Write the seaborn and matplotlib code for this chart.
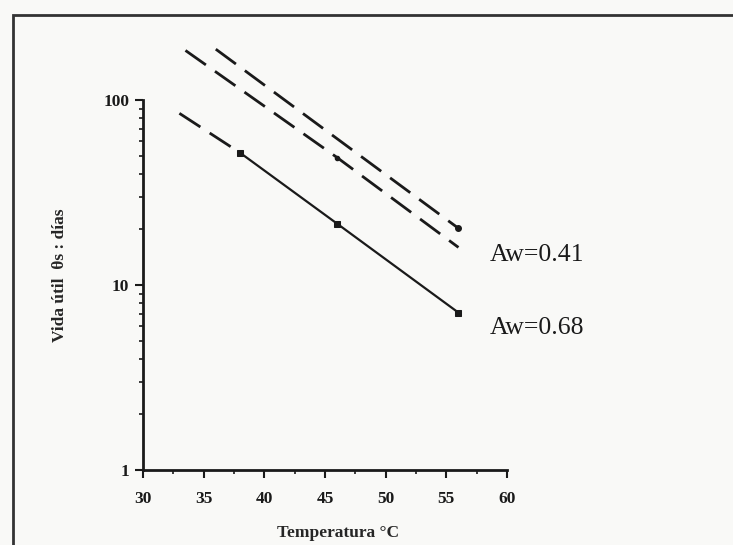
import matplotlib
matplotlib.use("Agg")
import matplotlib.pyplot as plt
import matplotlib.ticker as mticker
from matplotlib.patches import Rectangle
import numpy as np
import pandas as pd
import seaborn as sns

# valores (vida util en dias vs temperatura)
temp_068 = [38, 46, 56]
vida_068 = [52, 21.5, 7.1]
temp_068_ext = [33, 38]
vida_068_ext = [85, 52]
temp_041a = [33.5, 46, 56]
vida_041a = [186, 49, 16]
temp_041b = [36, 56]
vida_041b = [189, 20.3]
x_ticks = [30, 35, 40, 45, 50, 55, 60]
y_ticks = [1, 10, 100]
etiquetas = ["Aw=0.41", "Aw=0.68"]
etiq_x = [58.6, 58.6]
etiq_y = [14.5, 5.9]

sns.set_style("ticks")
plt.rcParams["font.family"] = ["Liberation Serif", "DejaVu Serif"]

fig = plt.figure(figsize=(7.33, 5.45), dpi=100)
fig.patch.set_facecolor("#f9f9f7")
ax = fig.add_axes([143 / 733, 1 - 470 / 545, 364 / 733, 440 / 545])
ax.set_facecolor("none")

# marco de la figura
fig.patches.append(Rectangle((13 / 733, -0.1), 1.2, 1.1 - 15 / 545,
                             transform=fig.transFigure, fill=False,
                             edgecolor="#333333", linewidth=2))

dash = (0, (9, 4))
sns.lineplot(x=temp_041b, y=vida_041b, ax=ax, color="#1a1a1a", lw=2, linestyle=dash)
sns.lineplot(x=temp_041a, y=vida_041a, ax=ax, color="#1a1a1a", lw=2, linestyle=dash)
sns.lineplot(x=temp_068_ext, y=vida_068_ext, ax=ax, color="#1a1a1a", lw=2, linestyle=dash)
sns.lineplot(x=temp_068, y=vida_068, ax=ax, color="#1a1a1a", lw=1.6,
             marker="s", markersize=5, markeredgecolor="#1a1a1a")
ax.plot(temp_041b[-1:], vida_041b[-1:], "o", color="#1a1a1a", ms=4)
ax.plot(temp_041a[1:2], vida_041a[1:2], "o", color="#1a1a1a", ms=3)

ax.set_yscale("log")
ax.set_xlim(30, 60)
ax.set_ylim(1, 240)
ax.spines["top"].set_visible(False)
ax.spines["right"].set_visible(False)
ax.spines["left"].set_bounds(1, 100)
ax.spines["bottom"].set_bounds(30, 60)
for s in ("left", "bottom"):
    ax.spines[s].set_linewidth(2)
    ax.spines[s].set_color("#1a1a1a")

minor_y = [m * d for d in (1, 10) for m in range(2, 10)]
ax.xaxis.set_major_locator(mticker.FixedLocator(x_ticks))
ax.xaxis.set_minor_locator(mticker.MultipleLocator(2.5))
ax.yaxis.set_major_locator(mticker.FixedLocator(y_ticks))
ax.yaxis.set_major_formatter(mticker.FixedFormatter([str(v) for v in y_ticks]))
ax.yaxis.set_minor_locator(mticker.FixedLocator(minor_y))
ax.yaxis.set_minor_formatter(mticker.NullFormatter())
ax.tick_params(which="major", direction="out", length=6, width=1.5, colors="#1a1a1a",
               labelsize=12.5)
ax.tick_params(which="minor", direction="out", length=3, width=1.2, colors="#1a1a1a")
ax.tick_params(axis="x", pad=9)
ax.tick_params(axis="y", pad=4)
for lab in ax.get_xticklabels() + ax.get_yticklabels():
    lab.set_fontweight("bold")

ax.set_xlabel("Temperatura °C", fontsize=12.5, fontweight="bold")
ax.xaxis.set_label_coords(0.536, -0.125)
ax.set_ylabel("Vida útil  θs : días", fontsize=12.5, fontweight="bold")
ax.yaxis.set_label_coords(-0.205, 0.443)

for t, x, y in zip(etiquetas, etiq_x, etiq_y):
    ax.text(x, y, t, fontsize=18.5, ha="left", va="center", color="#1a1a1a", clip_on=False)

fig.savefig("out.png", dpi=100, facecolor=fig.get_facecolor())
